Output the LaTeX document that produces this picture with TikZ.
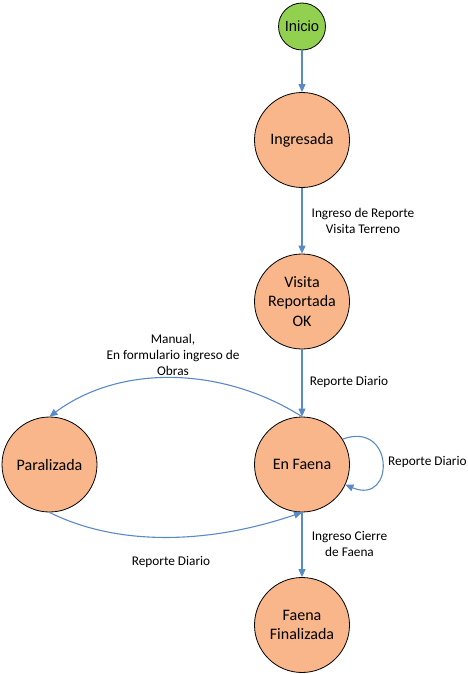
\documentclass[tikz,border=0pt]{standalone}
\usepackage{fontspec}
\setmainfont{Carlito}
\newfontfamily\arialf{Liberation Sans}
\usetikzlibrary{arrows.meta}
\definecolor{peach}{HTML}{F8B68A}
\definecolor{leaf}{HTML}{92D050}
\definecolor{arrowblue}{HTML}{5A8AC6}
\tikzset{
  state/.style={circle, draw=black, line width=0.8pt, fill=peach, minimum size=95pt, inner sep=0pt,
    align=center, font=\fontsize{16}{19.5}\selectfont},
  startstate/.style={circle, draw=black, line width=0.8pt, fill=leaf, minimum size=47pt, inner sep=0pt,
    font=\arialf\fontsize{14.7}{17}\selectfont},
  conn/.style={draw=arrowblue, line width=1.1pt, -{Triangle[width=7pt,length=8pt]}},
  lbl/.style={align=center, font=\fontsize{13.3}{16}\selectfont, inner sep=0pt}
}
\begin{document}
\begin{tikzpicture}[x=1pt,y=-1pt]
\useasboundingbox (0,0) rectangle (468,674);
\node[startstate] (inicio) at (302,26.5) {Inicio};
\node[state] (ingresada) at (302,140) {Ingresada};
\node[state] (visita) at (302,301.5) {Visita\\Reportada\\OK};
\node[state] (enfaena) at (302,464.5) {En Faena};
\node[state] (paralizada) at (49.5,464.5) {Paralizada};
\node[state] (final) at (302,625) {Faena\\Finalizada};

\draw[conn] (inicio) -- (ingresada);
\draw[conn] (ingresada) -- (visita);
\draw[conn] (visita) -- (enfaena);
\draw[conn] (enfaena) -- (final);
\draw[conn] (enfaena.north) .. controls +(-81,-51) and +(70,-52) .. (paralizada.north);
\draw[conn] (paralizada.south) .. controls +(66,33) and +(-97,33) .. (enfaena.south);
\draw[conn] (enfaena.32) .. controls +(52,-19) and +(50,21) .. (enfaena.-25);

\node[lbl] (l1) at (363,221) {Ingreso de Reporte\\Visita Terreno};
\node[lbl] (l2) at (349,382) {Reporte Diario};
\node[lbl] (l3) at (173,355) {Manual,\\En formulario ingreso de\\Obras};
\node[lbl, anchor=west] (l4) at (388,462) {Reporte Diario};
\node[lbl] (l5) at (349.5,543.5) {Ingreso Cierre\\de Faena};
\node[lbl] (l6) at (171,562) {Reporte Diario};
\end{tikzpicture}
\end{document}
